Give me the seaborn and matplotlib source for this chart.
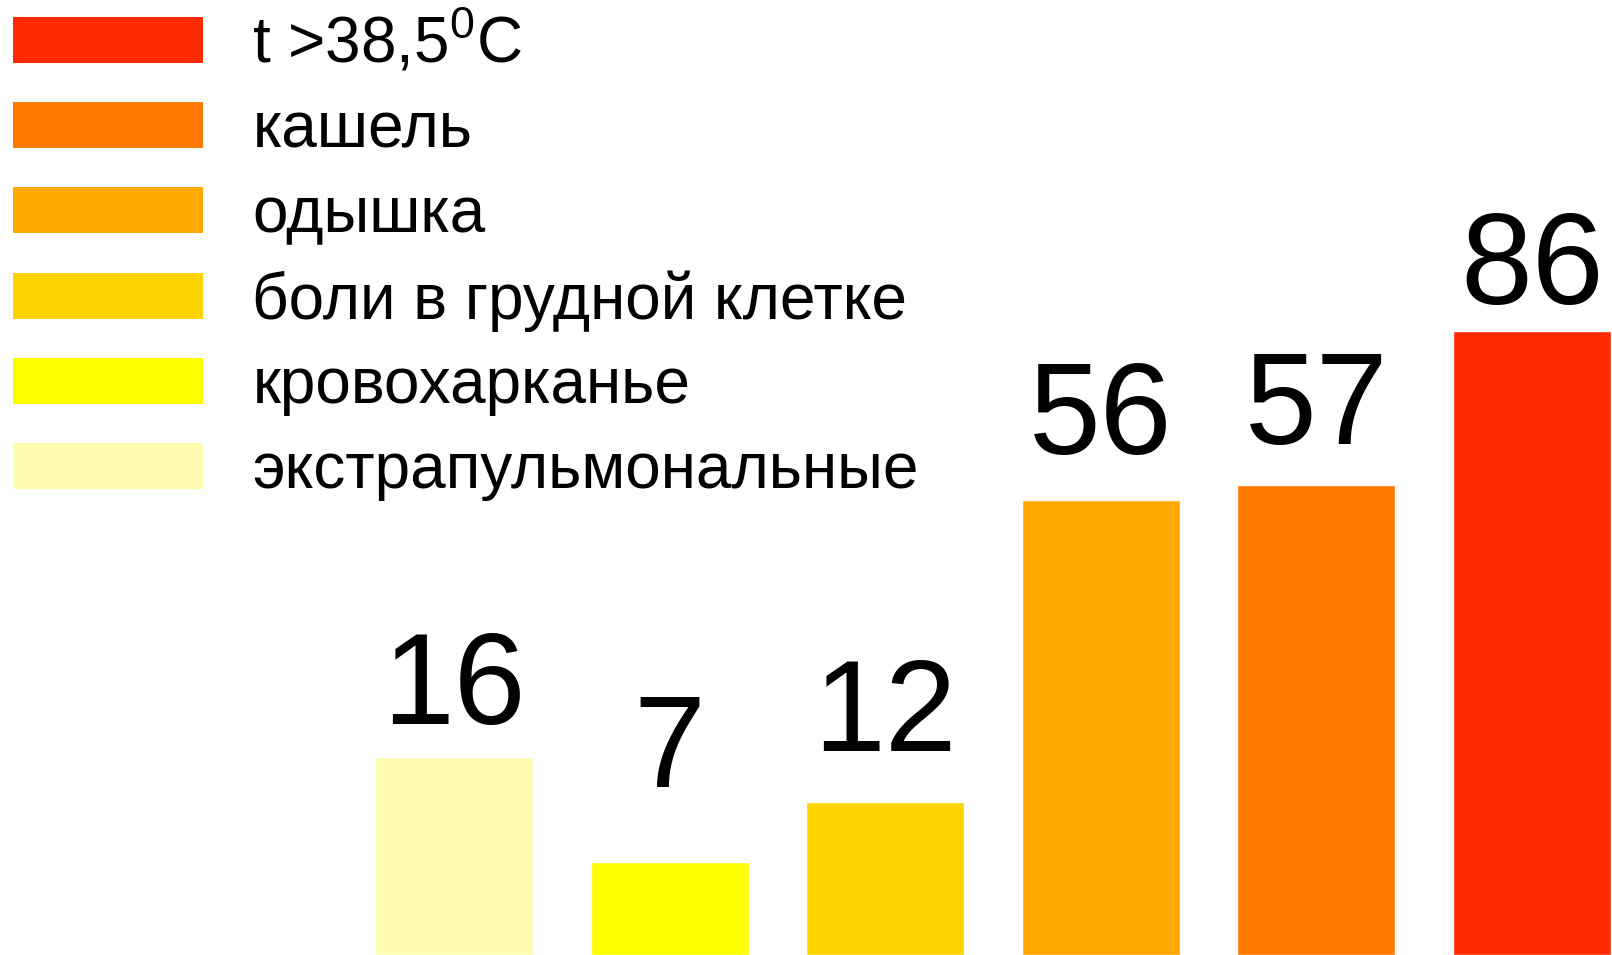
import matplotlib
matplotlib.use("Agg")
import matplotlib.pyplot as plt
from matplotlib.patches import Patch
import seaborn as sns

# bars left -> right
categories = ['экстрапульмональные', 'кровохарканье', 'боли в грудной клетке',
              'одышка', 'кашель', 't >38,5$^{\\mathregular{0}}$C']
values = [16, 7, 12, 56, 57, 86]
# apparent bar heights in the picture (same units as the 86 bar)
bar_heights = [27.3, 12.8, 21.1, 62.7, 64.8, 86]
colors = ['#FFFCB0', '#FFFF00', '#FFD400', '#FFA800', '#FF7B00', '#FF2A00']

# label offsets above each bar (points), the original is not uniform
label_pad = [4, 35, 17, 14, 10, 0]

sns.set_style('white')
plt.rcParams['font.family'] = ['Liberation Sans', 'DejaVu Sans']
plt.rcParams['text.color'] = 'black'
plt.rcParams['mathtext.fontset'] = 'custom'
plt.rcParams['mathtext.rm'] = 'Liberation Sans'

fig = plt.figure(figsize=(16.12, 9.55), dpi=100)
ax = fig.add_axes([0, 0, 1, 1])

sns.barplot(x=categories, y=bar_heights, hue=categories, palette=colors,
            saturation=1, width=0.733, legend=False, ax=ax)

for cont, v, pad in zip(ax.containers, values, label_pad):
    ax.bar_label(cont, labels=[str(v)], padding=pad, fontsize=93, color='black')

ax.set_xlim(-2.106, 5.371)
ax.set_ylim(0, 131.6)
ax.axis('off')

# legend, top to bottom = bars right to left
handles = [Patch(facecolor=c, edgecolor='none') for c in colors[::-1]]
leg = ax.legend(handles, categories[::-1], loc='upper left',
                bbox_to_anchor=(0.0, 1.0065), bbox_transform=fig.transFigure,
                frameon=False, fontsize=46, handlelength=2.97,
                handleheight=0.73, handletextpad=0.78, labelspacing=0.39,
                borderaxespad=0.2, borderpad=0.0)

fig.savefig('out.png', dpi=100)
